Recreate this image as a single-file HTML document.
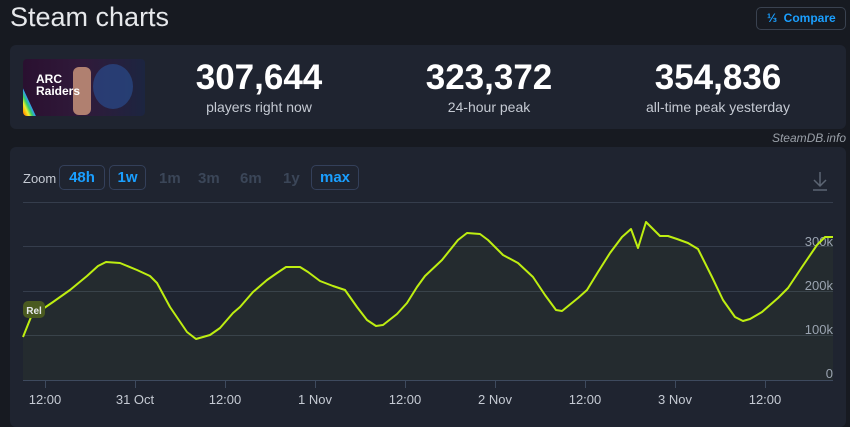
<!DOCTYPE html>
<html><head><style>
*{margin:0;padding:0;box-sizing:border-box}
body{width:850px;height:417px;background:#171a21;font-family:"Liberation Sans",sans-serif;position:relative;overflow:hidden;color:#fff}
.p{position:absolute}
.panel{position:absolute;background:#1f2430;border-radius:6px}
.num{position:absolute;font-weight:bold;font-size:35px;text-align:center;width:220px;top:58px}
.lab{position:absolute;font-size:14px;color:#c5cad3;text-align:center;width:220px;top:99px}
.btn{position:absolute;top:165px;height:25px;border:1px solid #34405a;border-radius:5px;color:#1a9fff;font-weight:bold;font-size:15px;text-align:center;line-height:23px}
.dim{position:absolute;top:170px;font-size:15px;color:#3b4658;font-weight:bold}
</style></head><body>
<div class="p" style="left:10px;top:2px;font-size:27px;color:#e6e8eb">Steam charts</div>
<div class="p" style="left:756px;top:7px;width:90px;height:23px;border:1px solid #3a4250;border-radius:5px;color:#1a9fff;font-weight:bold;font-size:12px;line-height:21px;padding-left:10px">⅓ &nbsp;Compare</div>
<div class="panel" style="left:10px;top:45px;width:836px;height:84px"></div>
<div class="p" style="left:23px;top:59px;width:122px;height:57px;border-radius:4px;background:linear-gradient(90deg,#2a1030 0%,#301a3a 50%,#1c2540 100%);overflow:hidden">
<div class="p" style="left:-10px;top:-5px;width:12px;height:80px;background:linear-gradient(90deg,#e33,#fa0,#ee3,#3c6,#39f);transform:rotate(-25deg)"></div>
<div class="p" style="left:70px;top:5px;width:40px;height:45px;border-radius:50%;background:#2a4a8a;opacity:.7"></div>
<div class="p" style="left:50px;top:8px;width:18px;height:48px;background:#b08070;border-radius:6px"></div>
<div class="p" style="left:13px;top:14px;font-size:12px;font-weight:bold;line-height:12px">ARC<br>Raiders</div>
</div>
<div class="num" style="left:149px">307,644</div><div class="lab" style="left:149px">players right now</div>
<div class="num" style="left:379px">323,372</div><div class="lab" style="left:379px">24-hour peak</div>
<div class="num" style="left:608px">354,836</div><div class="lab" style="left:608px">all-time peak yesterday</div>
<div class="p" style="right:4px;top:131px;font-size:12px;font-style:italic;color:#9aa0a8">SteamDB.info</div>
<div class="panel" style="left:10px;top:147px;width:836px;height:280px"></div>
<div class="p" style="left:23px;top:171px;font-size:13px;color:#c5cad3">Zoom</div>
<div class="btn" style="left:59px;width:46px">48h</div>
<div class="btn" style="left:109px;width:37px">1w</div>
<div class="dim" style="left:159px">1m</div>
<div class="dim" style="left:198px">3m</div>
<div class="dim" style="left:240px">6m</div>
<div class="dim" style="left:283px">1y</div>
<div class="btn" style="left:311px;width:48px">max</div>
<svg class="p" style="left:0;top:0" width="850" height="417">
<g stroke="#353d4c" stroke-width="1">
<line x1="23" y1="202.5" x2="833" y2="202.5"/>
<line x1="23" y1="246.5" x2="833" y2="246.5"/>
<line x1="23" y1="291.5" x2="833" y2="291.5"/>
<line x1="23" y1="335.5" x2="833" y2="335.5"/>
<line x1="23" y1="380.5" x2="833" y2="380.5" stroke="#3e4a5e"/>
</g>
<g stroke="#3e4a5e"><line x1="45.5" y1="380" x2="45.5" y2="388"/><line x1="135.5" y1="380" x2="135.5" y2="388"/><line x1="225.5" y1="380" x2="225.5" y2="388"/><line x1="315.5" y1="380" x2="315.5" y2="388"/><line x1="405.5" y1="380" x2="405.5" y2="388"/><line x1="495.5" y1="380" x2="495.5" y2="388"/><line x1="585.5" y1="380" x2="585.5" y2="388"/><line x1="675.5" y1="380" x2="675.5" y2="388"/><line x1="765.5" y1="380" x2="765.5" y2="388"/></g>
<path fill="rgba(190,238,17,0.04)" stroke="none" d="M23,337 L31,317 L53,302 L70,290 L87,276 L98,266 L106,262 L120,263 L137,270 L150,276 L157,283 L170,307 L187,332 L196,339 L210,335 L220,328 L233,313 L240,307 L253,292 L267,280 L277,273 L286,267 L300,267 L308,272 L320,281 L333,286 L345,290 L357,307 L367,320 L376,326 L383,325 L397,314 L407,303 L417,287 L425,276 L442,260 L458,240 L467,233 L480,234 L488,240 L503,255 L518,263 L533,277 L545,295 L556,310 L562,311 L578,298 L587,290 L598,272 L610,253 L622,237 L631,229 L638,248 L646,222 L660,236 L668,236 L677,239 L688,243 L698,249 L712,277 L723,300 L735,317 L743,321 L750,319 L762,312 L778,298 L788,288 L802,267 L817,245 L825,237 L833,237 L833,380 L23,380 Z"/>
<g fill="#9aa3b0" font-size="13" text-anchor="end" font-family="Liberation Sans">
<text x="833" y="246">300k</text><text x="833" y="290">200k</text><text x="833" y="334">100k</text><text x="833" y="378">0</text></g>
<g fill="#c5cad3" font-size="13" text-anchor="middle" font-family="Liberation Sans">
<text x="45" y="404">12:00</text><text x="135" y="404">31 Oct</text><text x="225" y="404">12:00</text><text x="315" y="404">1 Nov</text><text x="405" y="404">12:00</text><text x="495" y="404">2 Nov</text><text x="585" y="404">12:00</text><text x="675" y="404">3 Nov</text><text x="765" y="404">12:00</text></g>
<path fill="none" stroke="#beee11" stroke-width="2" stroke-linejoin="round" d="M23,337 L31,317 L53,302 L70,290 L87,276 L98,266 L106,262 L120,263 L137,270 L150,276 L157,283 L170,307 L187,332 L196,339 L210,335 L220,328 L233,313 L240,307 L253,292 L267,280 L277,273 L286,267 L300,267 L308,272 L320,281 L333,286 L345,290 L357,307 L367,320 L376,326 L383,325 L397,314 L407,303 L417,287 L425,276 L442,260 L458,240 L467,233 L480,234 L488,240 L503,255 L518,263 L533,277 L545,295 L556,310 L562,311 L578,298 L587,290 L598,272 L610,253 L622,237 L631,229 L638,248 L646,222 L660,236 L668,236 L677,239 L688,243 L698,249 L712,277 L723,300 L735,317 L743,321 L750,319 L762,312 L778,298 L788,288 L802,267 L817,245 L825,237 L833,237"/>
<rect x="23" y="301" width="22" height="17" rx="5" fill="#4a5a20"/>
<text x="34" y="314" fill="#e6e8eb" font-size="10" font-weight="bold" text-anchor="middle" font-family="Liberation Sans">Rel</text>
<g stroke="#5c6573" stroke-width="1.5" fill="none"><path d="M820,172 V186 M814,180 L820,186 L826,180 M813,190 H827"/></g>
</svg>
</body></html>
